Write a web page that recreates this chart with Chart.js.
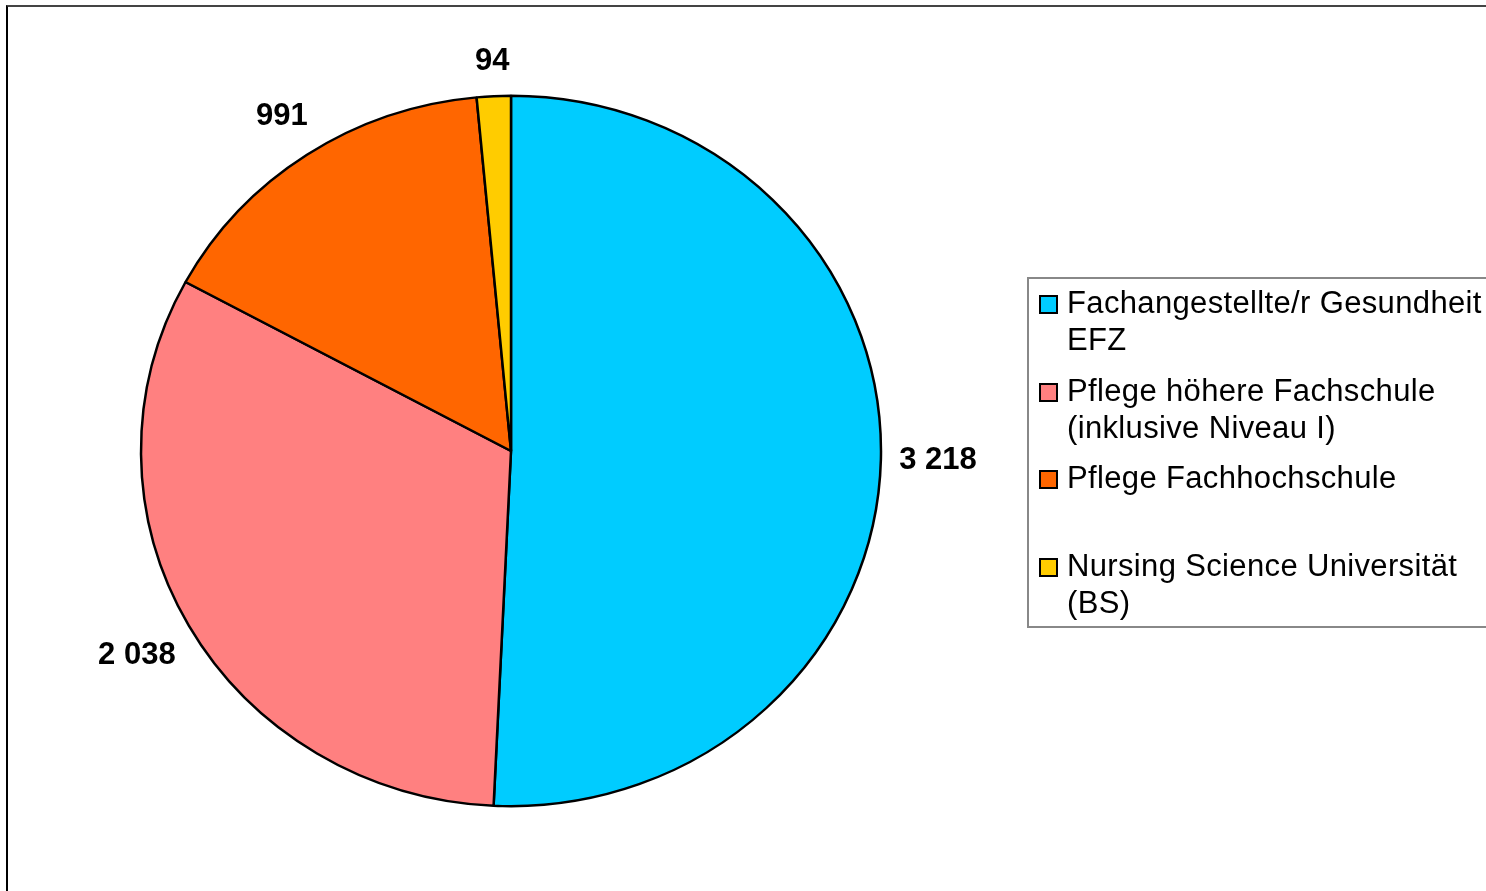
<!DOCTYPE html>
<html>
<head>
<meta charset="utf-8">
<script src="https://cdn.jsdelivr.net/npm/chart.js@4/dist/chart.umd.min.js"></script>
<style>
  html, body { margin: 0; padding: 0; background: #fff; overflow: hidden; }
  body { width: 1486px; height: 891px; position: relative; font-family: "Liberation Sans", Arial, sans-serif; }
  #frame { position: absolute; left: 6px; top: 5px; width: 2000px; height: 2000px;
           border-top: 2px solid #444; border-left: 2px solid #000; }
  #chart { position: absolute; left: 0; top: 0; }
  #legend { position: absolute; left: 1027px; top: 277px; width: 600px; height: 347px;
            border: 2px solid #888; }
  .item { position: absolute; left: 0; }
  .swatch { position: absolute; left: 10px; top: 11px; width: 15px; height: 15px; border: 2px solid #000; }
  .txt { position: absolute; left: 38px; top: 0; font-size: 31px; line-height: 37px;
         letter-spacing: 0.35px; color: #000; white-space: nowrap; }
</style>
</head>
<body>
<div id="frame"></div>
<canvas id="chart" width="1486" height="891"></canvas>
<div id="legend"></div>
<script>
const categories = [
  ['Fachangestellte/r Gesundheit', 'EFZ'],
  ['Pflege höhere Fachschule', '(inklusive Niveau I)'],
  ['Pflege Fachhochschule'],
  ['Nursing Science Universität', '(BS)']
];
const values = [3218, 2038, 991, 94];
const colors = ['#00CCFF', '#FF8080', '#FF6600', '#FFCC00'];

// squash the pie a bit vertically, like the original
const yScale = 0.96;

function fmt(v) {
  return String(v).replace(/\B(?=(\d{3})+(?!\d))/g, ' ');
}

const ellipse = {
  id: 'ellipse',
  beforeDatasetsDraw(chart) {
    const arc = chart.getDatasetMeta(0).data[0];
    const ctx = chart.ctx;
    ctx.save();
    ctx.translate(arc.x, arc.y);
    ctx.scale(1, yScale);
    ctx.translate(-arc.x, -arc.y);
  },
  afterDatasetsDraw(chart) {
    chart.ctx.restore();
  }
};

const valueLabels = {
  id: 'valueLabels',
  afterDraw(chart) {
    const ctx = chart.ctx;
    const meta = chart.getDatasetMeta(0);
    ctx.save();
    ctx.font = 'bold 31px "Liberation Sans", Arial, sans-serif';
    ctx.fillStyle = '#000';
    ctx.textAlign = 'center';
    ctx.textBaseline = 'middle';
    meta.data.forEach((arc, i) => {
      const a = (arc.startAngle + arc.endAngle) / 2;
      const c = Math.cos(a), s = Math.sin(a);
      const text = fmt(values[i]);
      const hw = ctx.measureText(text).width / 2;
      const hh = 16;
      const px = arc.x + arc.outerRadius * c;
      const py = arc.y + arc.outerRadius * yScale * s;
      const d = 18 + Math.abs(c) * hw + Math.abs(s) * hh;
      ctx.fillText(text, px + c * d, py + s * d);
    });
    ctx.restore();
  }
};

new Chart(document.getElementById('chart').getContext('2d'), {
  type: 'pie',
  data: {
    labels: categories,
    datasets: [{
      data: values,
      backgroundColor: colors,
      borderColor: '#000',
      borderWidth: 2.5
    }]
  },
  options: {
    responsive: false,
    animation: false,
    devicePixelRatio: 1,
    radius: 370,
    layout: { padding: { left: 0, right: 464, top: 11, bottom: 0 } },
    plugins: {
      legend: { display: false },
      tooltip: { enabled: false }
    }
  },
  plugins: [ellipse, valueLabels]
});

// legend, two text lines reserved per entry
const legend = document.getElementById('legend');
categories.forEach((lines, i) => {
  const item = document.createElement('div');
  item.className = 'item';
  item.style.top = (5 + i * 87.5) + 'px';
  const sw = document.createElement('div');
  sw.className = 'swatch';
  sw.style.background = colors[i];
  const tx = document.createElement('div');
  tx.className = 'txt';
  tx.innerHTML = lines.join('<br>');
  item.appendChild(sw);
  item.appendChild(tx);
  legend.appendChild(item);
});
</script>
</body>
</html>
